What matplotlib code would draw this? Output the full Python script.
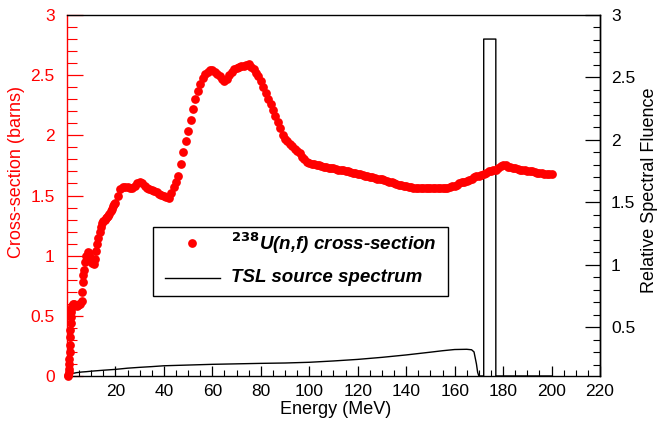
import matplotlib
matplotlib.use("Agg")
import matplotlib.pyplot as plt
from matplotlib.ticker import MultipleLocator, FixedLocator
from matplotlib.lines import Line2D
from matplotlib.patches import Rectangle

plt.rcParams['font.family'] = ['Liberation Sans', 'DejaVu Sans']

# --- 238U(n,f) cross-section (barns) ---
xs_energy = [0.3, 0.5, 0.7, 0.8, 0.9, 1.0, 1.1, 1.2, 1.3, 1.4, 1.5, 1.6, 1.7, 1.8, 2.0,
             2.3, 2.6, 3.0, 3.5, 4.0, 4.5, 5.0, 5.5, 6.0, 6.2, 6.4, 6.6, 7.0, 7.5, 8.0,
             8.5, 9.0, 9.5, 10.0, 10.5, 11.0, 11.5, 12.0, 12.5, 13.0, 13.5, 14.0, 14.5,
             15.0, 15.5, 16.0, 16.5, 17.0, 17.5, 18.0, 18.5, 19.0, 19.5,
             20, 21, 22, 23, 24, 25, 26, 27, 28, 29, 30, 31, 32, 33, 34, 35, 36, 37, 38, 39,
             40, 41, 42, 43, 44, 45, 46, 47, 48, 49, 50, 51, 52, 53, 54, 55, 56, 57, 58, 59,
             60, 61, 62, 63, 64, 65, 66, 67, 68, 69, 70, 71, 72, 73, 74, 75, 76, 77, 78, 79,
             80, 81, 82, 83, 84, 85, 86, 87, 88, 89, 90, 91, 92, 93, 94, 95, 96, 97, 98, 99,
             100, 101, 102, 103, 104, 105, 106, 107, 108, 109, 110, 111, 112, 113, 114, 115,
             116, 117, 118, 119, 120, 121, 122, 123, 124, 125, 126, 127, 128, 129, 130, 131,
             132, 133, 134, 135, 136, 137, 138, 139, 140, 141, 142, 143, 144, 145, 146, 147,
             148, 149, 150, 151, 152, 153, 154, 155, 156, 157, 158, 159, 160, 161, 162, 163,
             164, 165, 166, 167, 168, 169, 170, 171, 172, 173, 174, 175, 176, 177, 178, 179,
             180, 181, 182, 183, 184, 185, 186, 187, 188, 189, 190, 191, 192, 193, 194, 195,
             196, 197, 198, 199, 200]
xs_barns = [0.0, 0.01, 0.03, 0.06, 0.10, 0.14, 0.20, 0.26, 0.32, 0.38, 0.44, 0.49, 0.53, 0.56, 0.58,
            0.59, 0.60, 0.60, 0.59, 0.58, 0.59, 0.60, 0.60, 0.62, 0.70, 0.78, 0.84, 0.88, 0.95, 1.00,
            1.03, 1.02, 0.99, 0.96, 0.94, 0.93, 0.97, 1.04, 1.10, 1.15, 1.20, 1.24, 1.27,
            1.29, 1.30, 1.31, 1.32, 1.33, 1.35, 1.37, 1.39, 1.41, 1.43,
            1.44, 1.50, 1.55, 1.57, 1.57, 1.57, 1.56, 1.56, 1.58, 1.60, 1.615, 1.60, 1.58, 1.56,
            1.55, 1.545, 1.535, 1.525, 1.515, 1.505,
            1.495, 1.485, 1.48, 1.52, 1.57, 1.61, 1.66, 1.76, 1.86, 1.95, 2.04, 2.13, 2.22, 2.30,
            2.37, 2.43, 2.48, 2.51, 2.53, 2.54,
            2.54, 2.53, 2.51, 2.49, 2.47, 2.45, 2.47, 2.50, 2.53, 2.55, 2.56, 2.57, 2.575, 2.58,
            2.585, 2.59, 2.57, 2.55, 2.52, 2.49,
            2.45, 2.40, 2.35, 2.30, 2.26, 2.21, 2.16, 2.11, 2.06, 2.00, 1.97, 1.95, 1.93, 1.91,
            1.89, 1.87, 1.85, 1.82, 1.80, 1.78,
            1.77, 1.765, 1.76, 1.755, 1.75, 1.745, 1.74, 1.735, 1.73, 1.73, 1.725, 1.72, 1.715,
            1.71, 1.71, 1.705,
            1.70, 1.695, 1.69, 1.685, 1.68, 1.675, 1.67, 1.665, 1.66, 1.655, 1.65, 1.645, 1.64,
            1.64, 1.635, 1.63,
            1.62, 1.615, 1.61, 1.60, 1.595, 1.59, 1.585, 1.58, 1.575, 1.57, 1.57, 1.565, 1.565,
            1.565, 1.56, 1.56,
            1.56, 1.56, 1.56, 1.56, 1.56, 1.56, 1.56, 1.56, 1.565, 1.565, 1.57, 1.575, 1.58,
            1.59, 1.60, 1.61,
            1.615, 1.62, 1.63, 1.64, 1.65, 1.66, 1.665, 1.67, 1.68, 1.69, 1.70, 1.705, 1.71,
            1.715, 1.73, 1.745,
            1.755, 1.75, 1.74, 1.735, 1.73, 1.725, 1.72, 1.715, 1.71, 1.71, 1.705, 1.70, 1.70,
            1.695, 1.69, 1.69,
            1.685, 1.68, 1.68, 1.68, 1.68]

# --- TSL source spectrum (drawn in left-axis units) ---
spec_energy = [0, 1, 2, 4, 6, 8, 10, 15, 20, 25, 30, 35, 40, 50, 60, 70, 80, 90, 100,
               110, 120, 130, 140, 150, 155, 160, 165, 167, 168, 169, 169.5, 170,
               172, 172, 177, 177, 200]
spec_value = [0, 0.012, 0.02, 0.028, 0.033, 0.036, 0.04, 0.048, 0.055, 0.065, 0.072, 0.078,
              0.085, 0.091, 0.097, 0.101, 0.105, 0.108, 0.114, 0.125, 0.138, 0.155, 0.175,
              0.198, 0.21, 0.22, 0.222, 0.218, 0.20, 0.10, 0.03, 0.0,
              0.0, 2.8, 2.8, 0.0, 0.0]

x_ticks = [20, 40, 60, 80, 100, 120, 140, 160, 180, 200, 220]
left_ticks = [0, 0.5, 1, 1.5, 2, 2.5, 3]
right_ticks = [0.5, 1, 1.5, 2, 2.5, 3]

RED = '#ff0000'
W, H = 658, 424
fig = plt.figure(figsize=(W / 100, H / 100), dpi=100)
L, R, T, B = 67, 600, 15, 376
ax = fig.add_axes([L / W, 1 - B / H, (R - L) / W, (B - T) / H])
ax.set_xlim(0, 220)
ax.set_ylim(0, 3)

ax.plot(spec_energy, spec_value, color='black', lw=1.0, zorder=2, clip_on=True)
ax.plot(xs_energy, xs_barns, 'o', color=RED, ms=6.3, mec=RED, mew=0, zorder=3, clip_on=False)

# x axis
ax.xaxis.set_major_locator(FixedLocator(x_ticks))
ax.xaxis.set_minor_locator(MultipleLocator(5))
ax.tick_params(axis='x', which='major', direction='in', length=7, width=0.9, labelsize=12.5,
               pad=6, top=False)
ax.tick_params(axis='x', which='minor', direction='in', length=4, width=0.8, top=False)

# left axis
ax.yaxis.set_major_locator(FixedLocator(left_ticks))
ax.yaxis.set_minor_locator(MultipleLocator(0.1))
ax.set_yticklabels([('%g' % v) for v in left_ticks])
ax.tick_params(axis='y', which='major', direction='in', length=11.5, width=0.9,
               colors=RED, labelsize=12.5, pad=9)
ax.tick_params(axis='y', which='minor', direction='in', length=7, width=0.8, colors=RED)
ax.spines['left'].set_color(RED)
for s in ['top', 'bottom', 'right']:
    ax.spines[s].set_color('black')
for s in ax.spines.values():
    s.set_linewidth(1.0)

# right axis (ticks only)
ax2 = ax.twinx()
ax2.set_ylim(0.11, 3)
ax2.yaxis.set_major_locator(FixedLocator(right_ticks))
ax2.yaxis.set_minor_locator(MultipleLocator(0.1))
ax2.set_yticklabels([('%g' % v) for v in right_ticks])
ax2.tick_params(axis='y', which='major', direction='in', length=11, width=0.9,
                labelsize=12.5, pad=8)
ax2.tick_params(axis='y', which='minor', direction='in', length=5, width=0.8)
for s in ['left', 'top', 'bottom']:
    ax2.spines[s].set_visible(False)
ax2.spines['right'].set_linewidth(1.0)

# axis titles
fig.text(336 / W, 1 - 410 / H, 'Energy (MeV)', ha='center', va='center', fontsize=13)
fig.text(17 / W, 1 - 172 / H, 'Cross-section (barns)', ha='center', va='center',
         fontsize=13, color=RED, rotation=90)
fig.text(649 / W, 1 - 190 / H, 'Relative Spectral Fluence', ha='center', va='center',
         fontsize=13, rotation=90)

# legend box
lx0, ly0, lx1, ly1 = 153, 227, 448, 296
fig.patches.append(Rectangle((lx0 / W, 1 - ly1 / H), (lx1 - lx0) / W, (ly1 - ly0) / H,
                             transform=fig.transFigure, facecolor='white',
                             edgecolor='black', lw=1.0, zorder=5))
fig.lines.append(Line2D([192 / W], [1 - 243 / H], marker='o', color=RED, ms=6.3, mew=0,
                        transform=fig.transFigure, zorder=6))
fig.lines.append(Line2D([165 / W, 220 / W], [1 - 278 / H, 1 - 278 / H], color='black',
                        lw=1.0, transform=fig.transFigure, zorder=6))
fig.text(231 / W, 1 - 243 / H, r'$^{\mathbf{238}}$U(n,f) cross-section', ha='left',
         va='center', fontsize=13.5, fontweight='bold', fontstyle='italic', zorder=7)
fig.text(231 / W, 1 - 278 / H, 'TSL source spectrum', ha='left', va='center',
         fontsize=13.5, fontweight='bold', fontstyle='italic', zorder=7)

fig.savefig('out.png', dpi=100)
